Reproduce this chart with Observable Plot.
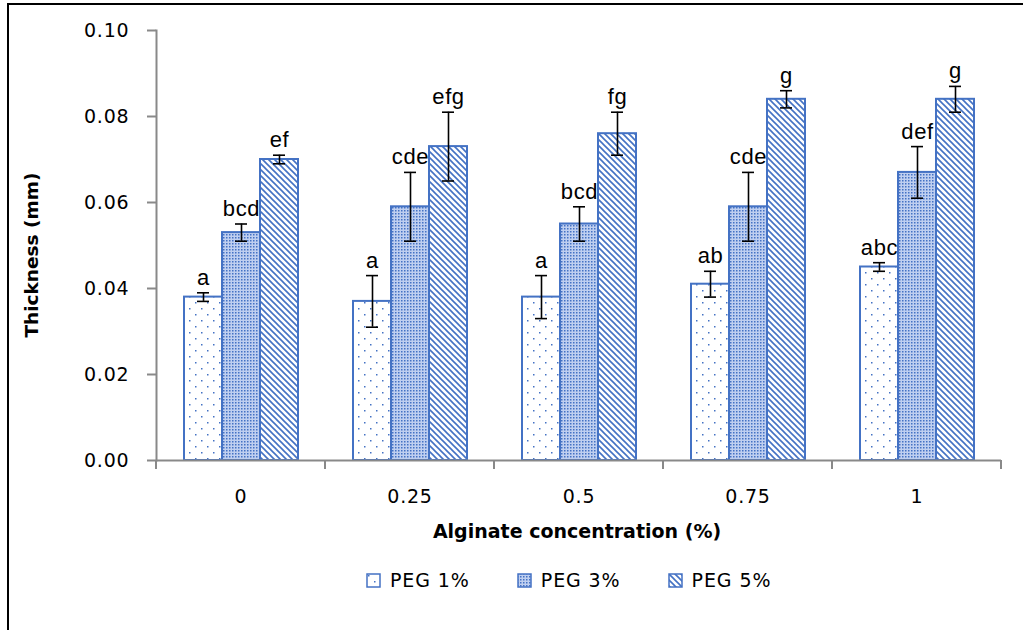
<!DOCTYPE html>
<html>
<head>
<meta charset="utf-8">
<script src="https://cdn.jsdelivr.net/npm/d3@7"></script>
<script src="https://cdn.jsdelivr.net/npm/@observablehq/plot@0.6"></script>
<style>
  html, body { margin: 0; padding: 0; background: #fff; }
  body { width: 1023px; height: 630px; overflow: hidden; position: relative; font-family: "DejaVu Sans", sans-serif; color: #000; }
  #frame { position: absolute; left: 7px; top: 3px; width: 2000px; height: 2000px; border-top: 2px solid #000; border-left: 2px solid #000; box-sizing: border-box; }
  #chart { position: absolute; left: 0; top: 0; }
  #chart svg g[aria-label="y-axis tick label"] text,
  #chart svg g[aria-label="fx-axis tick label"] text { letter-spacing: 0.8px; }
  #chart svg g[aria-label="text"] text { letter-spacing: 0.6px; }
  #ytitle { position: absolute; left: -118px; top: 244px; width: 300px; height: 22px; line-height: 22px; text-align: center; transform: rotate(-90deg); transform-origin: 150px 11px; white-space: nowrap; font-weight: bold; font-size: 18.5px; }
  #xtitle { position: absolute; left: 577px; top: 531px; transform: translate(-50%, -50%); white-space: nowrap; font-weight: bold; font-size: 19px; }
  #legend { position: absolute; left: 366px; top: 569px; display: flex; align-items: center; font-size: 19px; letter-spacing: 0.9px; }
  #legend .item { display: flex; align-items: center; margin-right: 47px; }
  #legend svg { margin-right: 9px; }
</style>
</head>
<body>
<div id="frame"></div>
<svg width="0" height="0" style="position:absolute">
  <defs>
    <pattern id="pat1" patternUnits="userSpaceOnUse" width="12" height="12">
      <rect width="12" height="12" fill="#fff"/>
      <rect x="2" y="2" width="1.5" height="1.5" fill="#4472c4"/>
      <rect x="8" y="8" width="1.5" height="1.5" fill="#4472c4"/>
    </pattern>
    <pattern id="pat3" patternUnits="userSpaceOnUse" width="3" height="3">
      <rect width="3" height="3" fill="#bfcff0"/>
      <rect x="0" y="0" width="1.5" height="1.5" fill="#4472c4"/>
    </pattern>
    <pattern id="pat5" patternUnits="userSpaceOnUse" width="6" height="6">
      <rect width="6" height="6" fill="#fff"/>
      <path d="M-1,-1 L7,7 M-1,5 L1,7 M5,-1 L7,1" stroke="#4472c4" stroke-width="1.6"/>
    </pattern>
  </defs>
</svg>
<div id="chart"></div>
<div id="ytitle">Thickness (mm)</div>
<div id="xtitle">Alginate concentration (%)</div>
<div id="legend"></div>
<script>
// ---- data ----
const categories = ["0", "0.25", "0.5", "0.75", "1"];
const series = ["PEG 1%", "PEG 3%", "PEG 5%"];
const peg1 = [0.038, 0.037, 0.038, 0.041, 0.045];
const peg3 = [0.053, 0.059, 0.055, 0.059, 0.067];
const peg5 = [0.070, 0.073, 0.076, 0.084, 0.084];
const err1 = [0.001, 0.006, 0.005, 0.003, 0.001];
const err3 = [0.002, 0.008, 0.004, 0.008, 0.006];
const err5 = [0.001, 0.008, 0.005, 0.002, 0.003];
const letters1 = ["a", "a", "a", "ab", "abc"];
const letters3 = ["bcd", "cde", "bcd", "cde", "def"];
const letters5 = ["ef", "efg", "fg", "g", "g"];
const yTicks = [0, 0.02, 0.04, 0.06, 0.08, 0.10];
const fills = ["url(#pat1)", "url(#pat3)", "url(#pat5)"];

const values = [peg1, peg3, peg5];
const errors = [err1, err3, err5];
const letters = [letters1, letters3, letters5];
const rows = [];
categories.forEach((c, i) => {
  series.forEach((s, j) => {
    rows.push({cat: c, series: s, value: values[j][i], err: errors[j][i], letter: letters[j][i]});
  });
});

const gray = "#898989";
const blue = "#4472c4";

// boundary ticks under the x axis, drawn at the edges of each facet band
function boundaryTicks(index, scales, vals, dimensions) {
  const {x, y} = scales;
  const [a, b] = x.range();
  const y0 = y(0);
  const g = d3.create("svg:g").attr("stroke", gray).attr("stroke-width", 2);
  for (const px of [a, b]) {
    g.append("line").attr("x1", px).attr("x2", px).attr("y1", y0).attr("y2", y0 + 9);
  }
  return g.node();
}

const chart = Plot.plot({
  width: 1023,
  height: 545,
  marginTop: 30,
  marginBottom: 85,
  marginLeft: 155,
  marginRight: 21,
  style: {fontFamily: "DejaVu Sans, sans-serif", fontSize: "19px", color: "#000", background: "transparent"},
  fx: {domain: categories, padding: 0, label: null},
  x: {domain: series, paddingInner: 0, paddingOuter: 0.7, axis: null},
  y: {domain: [0, 0.1], label: null},
  color: {domain: series, range: fills},
  marks: [
    Plot.barY(rows, {fx: "cat", x: "series", y: "value", fill: "series", stroke: blue, strokeWidth: 2}),
    Plot.ruleX(rows, {fx: "cat", x: "series", y1: d => d.value - d.err, y2: d => d.value + d.err, stroke: "#000", strokeWidth: 1.6}),
    Plot.tickY(rows, {fx: "cat", x: "series", y: d => d.value - d.err, insetLeft: 13, insetRight: 13, stroke: "#000", strokeWidth: 1.6}),
    Plot.tickY(rows, {fx: "cat", x: "series", y: d => d.value + d.err, insetLeft: 13, insetRight: 13, stroke: "#000", strokeWidth: 1.6}),
    Plot.text(rows, {fx: "cat", x: "series", y: d => d.value + d.err, text: "letter", lineAnchor: "bottom", dy: -8, fontSize: 22, fontFamily: "Liberation Sans, Arial, sans-serif", fill: "#000"}),
    Plot.ruleY([0], {stroke: gray, strokeWidth: 2}),
    boundaryTicks,
    Plot.frame({anchor: "left", facetAnchor: "left", stroke: gray, strokeWidth: 2}),
    Plot.axisY({ticks: yTicks, tickFormat: d3.format(".2f"), tickSize: 9, tickPadding: 18, stroke: gray, strokeWidth: 2, fill: "#000", fontSize: 19, label: null}),
    Plot.axisFx({anchor: "bottom", tickSize: 0, tickPadding: 29, fontSize: 19, fill: "#000", label: null})
  ]
});
document.getElementById("chart").appendChild(chart);

// legend
const legend = d3.select("#legend");
series.forEach((s, j) => {
  const item = legend.append("div").attr("class", "item");
  const sw = item.append("svg").attr("width", 15).attr("height", 15);
  sw.append("rect").attr("x", 1).attr("y", 1).attr("width", 13).attr("height", 13)
    .attr("fill", fills[j]).attr("stroke", blue).attr("stroke-width", 1.5);
  item.append("span").text(s);
});
</script>
</body>
</html>
